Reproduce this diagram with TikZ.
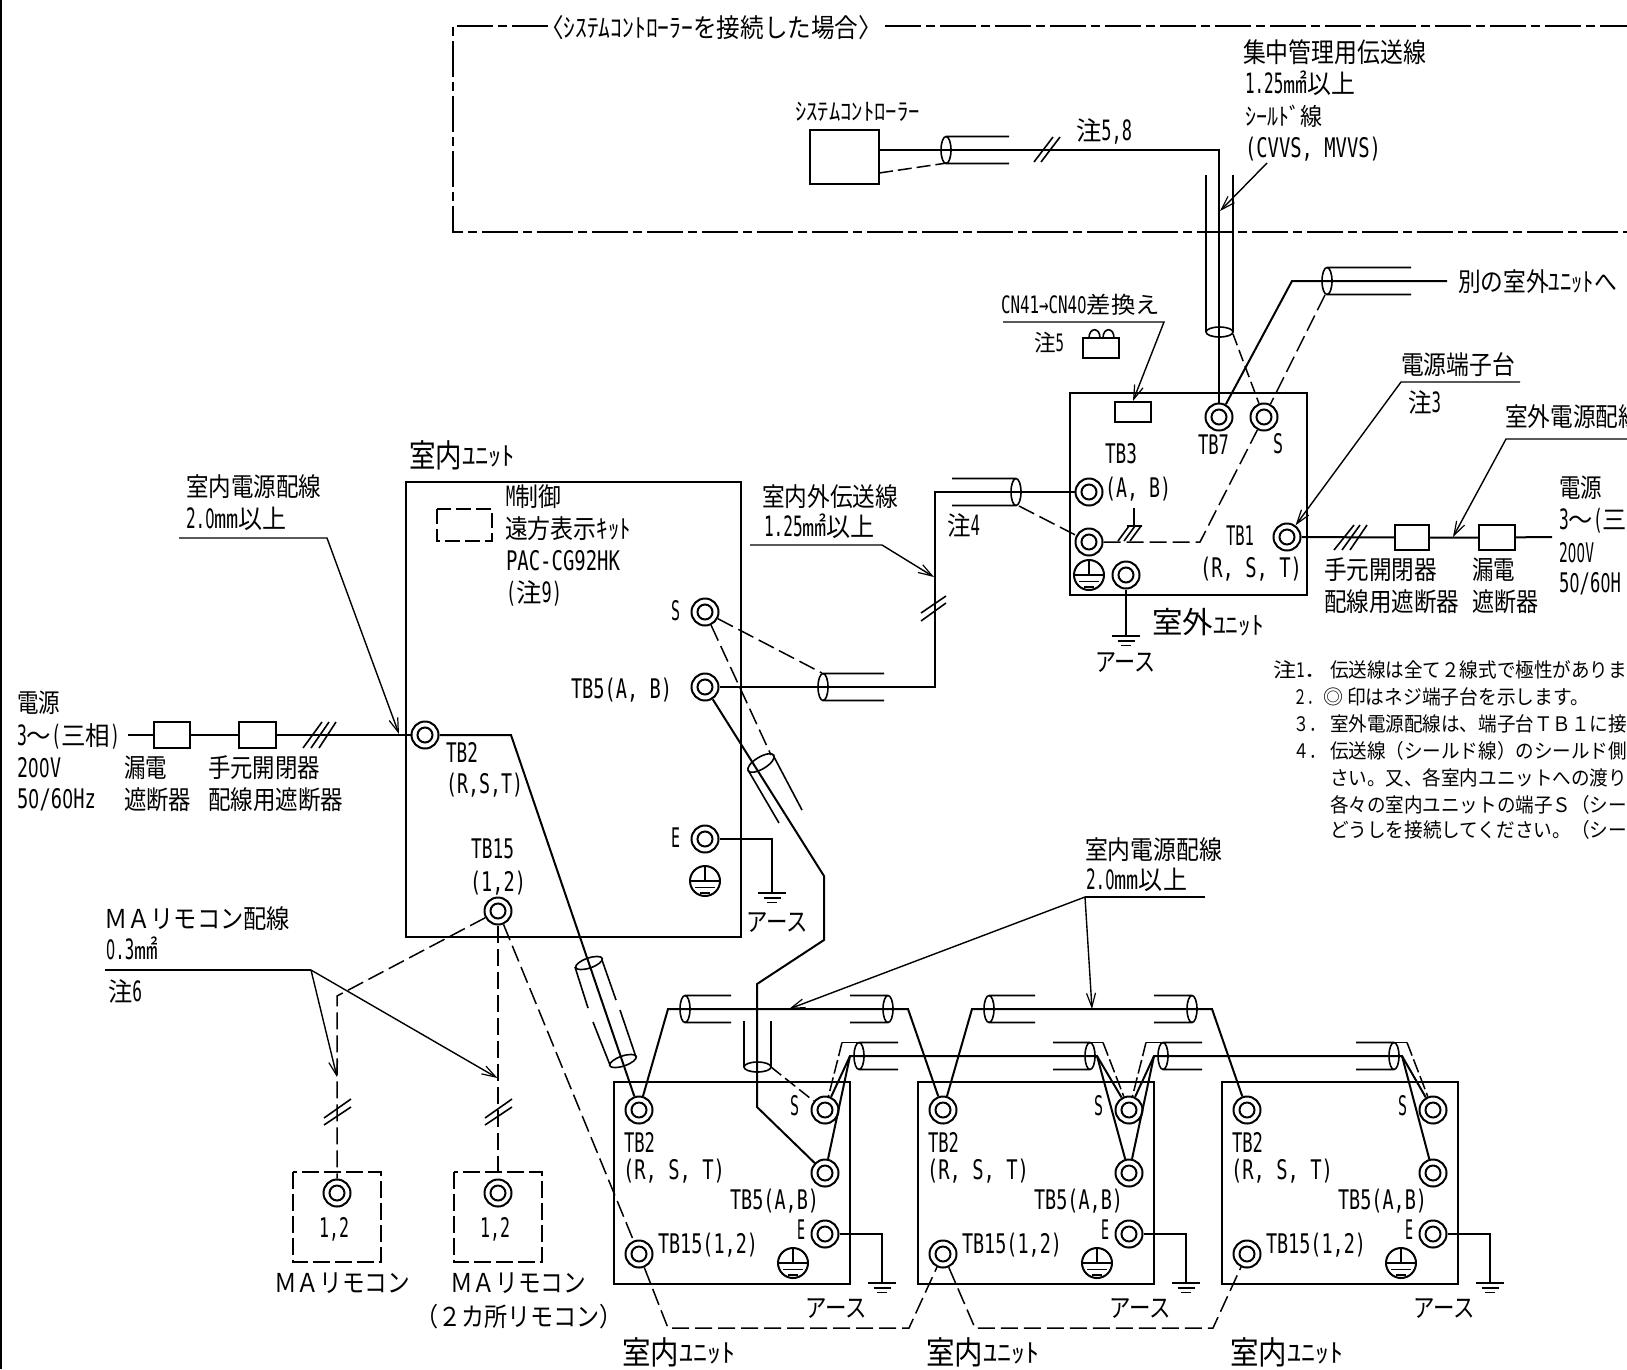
\documentclass[tikz,border=0pt]{standalone}
\usepackage{fontspec}
\usepackage{graphicx}
\usetikzlibrary{arrows.meta}
\setmainfont{Noto Sans CJK JP}
\newfontfamily\latf{DejaVu Sans Mono}
\newfontfamily\zerof{TeX Gyre Heros}
\newcommand\Z{\makebox[0.602em]{\zerof 0}}
\newcount\tc
\tikzset{
  lbl/.style={inner sep=0pt,outer sep=0pt,anchor=base west,text=black},
  wire/.style={line width=2pt,line join=miter},
  thin wire/.style={line width=1.6pt},
  dash wire/.style={line width=1.5pt,dash pattern=on 17pt off 6pt},
  chain/.style={line width=1.7pt,dash pattern=on 36pt off 5pt on 9pt off 5pt},
  lead/.style={line width=1.4pt,-{Straight Barb[length=14pt,width=9pt,line width=1.2pt]}},
  plain lead/.style={line width=1.4pt},
  tout/.style={circle,draw,line width=2pt,minimum size=27pt,inner sep=0pt},
  tin/.style={circle,draw,line width=2pt,minimum size=15pt,inner sep=0pt},
  boxn/.style={draw,line width=2pt,inner sep=0pt},
}
% x-left, y-centre, width, font size, text
\newcommand\Tx[5]{\global\advance\tc by1
  \node[lbl] (txt\the\tc) at (#1,{#2+0.37*#4}) {\fontsize{#4}{#4}\selectfont\resizebox{#3pt}{\height}{#5}};}
\newcommand\Mx[2][28]{\scalebox{0.62}[1]{\fontsize{#1}{#1}\selectfont\latf #2}}
% Latin label
\newcommand\Lt[4]{\Tx{#1}{#2}{#3}{27}{\latf #4}}
\newcommand\Bx[5]{\node[boxn,minimum width={(#4-#2)*1pt},minimum height={(#5-#3)*1pt}] (#1) at ({(#2+#4)/2},{(#3+#5)/2}) {};}
\newcommand\Term[3]{\node[tout] (#1) at (#2,#3) {}; \node[tin] (#1-i) at (#1) {};}
\newcommand\PE[3]{\node[circle,draw,line width=2pt,minimum size=30pt,inner sep=0pt] (#1) at (#2,#3) {};
  \draw[line width=1.7pt] (#2,#3-15) -- (#2,#3) (#2-15,#3) -- (#2+15,#3) (#2-10,#3+6.5) -- (#2+10,#3+6.5) (#2-5,#3+12) -- (#2+5,#3+12);}
\newcommand\Gnd[2]{\draw[line width=1.7pt] (#1-14,#2) -- (#1+14,#2) (#1-8.5,#2+5) -- (#1+8.5,#2+5) (#1-5,#2+9.5) -- (#1+5,#2+9.5);}
% cable: x, y, x-end
\newcommand\Cab[3]{\draw[thin wire] (#1,#2) ellipse (5pt and 13.5pt) (#1,#2-13.5) -- (#3,#2-13.5) (#1,#2+13.5) -- (#3,#2+13.5);}
\begin{document}
\begin{tikzpicture}[x=1pt,y=-1pt]
\useasboundingbox (0,0) rectangle (1627,1369);
\draw[line width=2.6pt] (1,0) -- (1,1369);

% ---------- system controller frame
\coordinate (fa) at (548,26); \coordinate (fb) at (453,26); \coordinate (fc) at (453,232); \coordinate (fd) at (1627,232);
\coordinate (fe) at (885,26); \coordinate (ff) at (1627,26);
\draw[chain] (fa) -- (fb) -- (fc) -- (fd);
\draw[chain] (fe) -- (ff);
\Tx{540}{28}{342}{26}{〈ｼｽﾃﾑｺﾝﾄﾛｰﾗｰを接続した場合〉}
\Tx{795}{112}{125}{24}{ｼｽﾃﾑｺﾝﾄﾛｰﾗｰ}
\Bx{ctl}{810}{130}{879}{184}
\Tx{1076}{131}{56}{26}{注\Mx{5,8}}
\Tx{1243}{53}{183}{27}{集中管理用伝送線}
\Tx{1245}{84}{110}{26}{\Mx{1.25}㎟以上}
\Tx{1245}{117}{77}{24}{ｼｰﾙﾄﾞ線}
\Lt{1245}{148}{136}{(CVVS, MVVS)}
\coordinate (ctlw) at (879,150); \coordinate (ctlb) at (1219,150);
\coordinate (ctld) at (879,173); \coordinate (cable1b) at (947,163);
\Cab{946}{150}{1009}
\draw[dash wire,dash pattern=on 14pt off 5pt] (ctld) -- (cable1b);
\draw[thin wire] (1034,162) -- (1053,137) (1041,162) -- (1060,137);
\draw[thin wire] (1206,175) -- (1206,332) (1233,175) -- (1233,332);
\draw[thin wire] (1219.5,332) ellipse (13.5pt and 5pt);
\coordinate (ldA) at (1267,163); \coordinate (ldB) at (1220,211);
\draw[lead] (ldA) -- (ldB);

% ---------- outdoor unit
\Bx{oubox}{1070}{393}{1307}{595}
\Bx{socket}{1115}{402}{1151}{422}
\Term{tb7}{1219}{417}
\Term{outS}{1264}{417}
\Term{oAB}{1089}{492}
\Term{oSh}{1089}{542}
\Term{oTB1}{1287}{537}
\Term{oE}{1126}{575}
\PE{oPE}{1089}{575}
\draw[wire] (ctlw) -- (ctlb) -- (tb7);
\coordinate (nxA) at (1292,281); \coordinate (nxB) at (1447,281);
\draw[wire] (tb7) -- (nxA) -- (nxB);
\Cab{1327}{281}{1411}
\coordinate (nxC) at (1325,295); \coordinate (shA) at (1233,334);
\draw[dash wire] (nxC) -- (outS);
\draw[dash wire,dash pattern=on 12pt off 5pt] (shA) -- (outS);
\Tx{1458}{282}{159}{26}{別の室外ﾕﾆｯﾄへ}
% jumper
\Tx{1001}{305}{159}{23}{\Mx[24]{CN41→CN4\Z}差換え}
\coordinate (jA) at (1003,322); \coordinate (jB) at (1164,322);
\draw[lead] (jA) -- (jB) -- (socket.north);
\Tx{1034}{343}{30}{23}{注\Mx[24]{5}}
\Bx{jbox}{1083}{338}{1119}{358}
\draw[thin wire] (1089,338) .. controls (1089,327) and (1100,327) .. (1100,338);
\draw[thin wire] (1103,338) .. controls (1103,327) and (1114,327) .. (1114,338);
\Lt{1198}{444}{31}{TB7}
\Lt{1273}{443}{10}{S}
\Lt{1105}{453}{32}{TB3}
\Lt{1105}{487}{66}{(A, B)}
\Lt{1226}{535}{28}{TB1}
\Lt{1200}{567}{102}{(R, S, T)}
\Tx{1152}{622}{112}{30}{室外\raisebox{-1pt}{\fontsize{25}{25}\selectfont ﾕﾆｯﾄ}}
% chassis earth
\draw[thin wire] (1134,508) -- (1134,526) (1127,526) -- (1142,526) (1129,526) -- (1118,541) (1135,526) -- (1124,541) (1141,526) -- (1130,541);
\coordinate (shB) at (1200,542);
\draw[dash wire] (oSh) -- (shB) -- (outS);
\coordinate (oG) at (1126,636);
\draw[wire] (oE) -- (oG);
\Gnd{1126}{636}
\Tx{1095}{662}{61}{26}{アース}
% cable to AB
\Cab{1016}{492}{952}
\coordinate (cabAb) at (1019,506);
\draw[dash wire] (cabAb) -- (oSh);
\Tx{947}{526}{33}{26}{注\Mx{4}}
% outdoor power
\Bx{ob1}{1395}{525}{1429}{550}
\Bx{ob2}{1479}{525}{1515}{550}
\coordinate (opw) at (1552,537);
\draw[wire] (oTB1) -- (ob1) (ob1) -- (ob2) (ob2) -- (opw);
\draw[thin wire] (1334,550) -- (1354,525) (1342,550) -- (1360,525) (1350,550) -- (1367,525);
\Tx{1401}{365}{114}{26}{電源端子台}
\coordinate (ldC) at (1520,382); \coordinate (ldD) at (1401,382);
\draw[lead] (ldC) -- (ldD) -- (oTB1);
\Tx{1408}{403}{33}{26}{注\Mx{3}}
\Tx{1505}{417}{136}{26}{室外電源配線}
\coordinate (ldE) at (1627,439); \coordinate (ldF) at (1506,439); \coordinate (ldG) at (1453,537);
\draw[lead] (ldE) -- (ldF) -- (ldG);
\Tx{1559}{488}{43}{26}{電源}
\Tx{1559}{520}{68}{26}{\Mx{3}～\Mx{(}三}
\Lt{1559}{552}{35}{2\Z\Z V}
\Lt{1559}{582}{62}{5\Z/6\Z H}
\Tx{1324}{570}{113}{26}{手元開閉器}
\Tx{1324}{602}{135}{26}{配線用遮断器}
\Tx{1472}{570}{43}{26}{漏電}
\Tx{1472}{602}{66}{26}{遮断器}
% notes
\Tx{1273}{670}{55}{20}{注\Mx[20]{1}．}
\Tx{1330}{670}{297}{20}{伝送線は全て２線式で極性がありま}
\Tx{1293}{697}{28}{20}{２．}
\Tx{1323}{697}{20}{20}{◎}
\Tx{1347}{697}{242}{20}{印はネジ端子台を示します。}
\Tx{1293}{724}{32}{20}{３．}
\Tx{1330}{724}{297}{20}{室外電源配線は、端子台ＴＢ１に接}
\Tx{1293}{751}{32}{20}{４．}
\Tx{1330}{751}{297}{20}{伝送線（シールド線）のシールド側}
\Tx{1330}{778}{297}{20}{さい。又、各室内ユニットへの渡り}
\Tx{1330}{805}{297}{20}{各々の室内ユニットの端子Ｓ（シー}
\Tx{1330}{830}{297}{20}{どうしを接続してください。（シー}

% ---------- main indoor unit
\Bx{inbox}{406}{482}{741}{937}
\Term{iTB2}{425}{735}
\Term{iS}{705}{612}
\Term{iTB5}{705}{687}
\Term{iE}{705}{839}
\Term{iTB15}{498}{911}
\PE{iPE}{705}{881}
\Tx{409}{456}{53}{32}{室内}
\Tx{462}{456}{53}{26}{ﾕﾆｯﾄ}
\Tx{506}{497}{55}{26}{\Mx{M}制御}
\draw[dash wire,dash pattern=on 15pt off 5pt] (437,509) rectangle (492,541);
\Tx{505}{529}{126}{26}{遠方表示ｷｯﾄ}
\Lt{506}{560}{114}{PAC-CG92HK}
\Tx{506}{593}{56}{26}{\Mx{(}注\Mx{9)}}
\Lt{671}{610}{9}{S}
\Lt{571}{688}{101}{TB5(A, B)}
\Lt{671}{837}{9}{E}
\Lt{446}{752}{32}{TB2}
\Lt{446}{783}{77}{(R,S,T)}
\Lt{471}{848}{43}{TB15}
\Lt{470}{881}{56}{(1,2)}
% E wire
\coordinate (iEa) at (772,839); \coordinate (iEb) at (772,893);
\draw[wire] (iE) -- (iEa) -- (iEb);
\Gnd{772}{893}
\Tx{746}{922}{62}{26}{アース}
% power in
\Tx{17}{703}{43}{26}{電源}
\Tx{17}{736}{103}{26}{\Mx{3}～\Mx{(}三相\Mx{)}}
\Lt{17}{767}{44}{2\Z\Z V}
\Lt{17}{798}{79}{5\Z/6\Z Hz}
\Tx{124}{768}{43}{26}{漏電}
\Tx{124}{800}{67}{26}{遮断器}
\Tx{208}{768}{112}{26}{手元開閉器}
\Tx{208}{800}{135}{26}{配線用遮断器}
\Bx{ib1}{154}{722}{190}{748}
\Bx{ib2}{239}{722}{276}{748}
\coordinate (ipw) at (128,735);
\draw[wire] (ipw) -- (ib1) (ib1) -- (ib2) (ib2) -- (iTB2);
\draw[thin wire] (303,748) -- (322,722) (311,748) -- (329,722) (319,748) -- (336,722);
\Tx{186}{487}{135}{26}{室内電源配線}
\Tx{186}{519}{101}{26}{\Mx{2.\Z}㎜以上}
\coordinate (ldH) at (179,538); \coordinate (ldI) at (327,538); \coordinate (ldJ) at (399,734);
\draw[lead] (ldH) -- (ldI) -- (ldJ);
% transmission
\coordinate (trA) at (935,687); \coordinate (trB) at (935,492);
\draw[wire] (iTB5) -- (trA) -- (trB) -- (oAB);
\Cab{823}{687}{884}
\coordinate (trC) at (822,673); 
\draw[dash wire] (iS) -- (trC);
\draw[thin wire] (921,613) -- (946,596) (921,621) -- (946,603);
\Tx{762}{497}{136}{26}{室内外伝送線}
\Tx{764}{527}{111}{26}{\Mx{1.25}㎟以上}
\coordinate (ldK) at (750,545); \coordinate (ldL) at (882,545); \coordinate (ldM) at (934,577);
\draw[lead] (ldK) -- (ldL) -- (ldM);
% diagonal cable TB5 -> unit 1
\draw[thin wire,rotate around={31:(761,763)}] (761,763) ellipse (15pt and 6pt);
\draw[thin wire] (748,770) -- (779,823) (773,755) -- (802,810);
\coordinate (dgS) at (771,755);
\draw[dash wire] (iS) -- (dgS);

% ---------- three lower units
\foreach \d/\n in {0/a,304/b,608/c}{
\begin{scope}[xshift=\d pt]
\Bx{\n box}{614}{1082}{850}{1284}
\Term{\n TB2}{639}{1110}
\Term{\n S}{825}{1110}
\Term{\n TB5}{825}{1173}
\Term{\n E}{825}{1234}
\Term{\n TB15}{639}{1254}
\PE{\n PE}{793}{1263}
\Lt{624}{1142}{31}{TB2}
\Lt{623}{1169}{102}{(R, S, T)}
\Lt{730}{1199}{89}{TB5(A,B)}
\Lt{797}{1229}{8}{E}
\Lt{658}{1243}{100}{TB15(1,2)}
\Lt{790}{1105}{9}{S}
\coordinate (\n Ea) at (882,1234); \coordinate (\n Eb) at (882,1283);
\draw[wire] (\n E) -- (\n Ea) -- (\n Eb);
\Gnd{882}{1283}
\Tx{805}{1308}{62}{26}{アース}
\Tx{622}{1353}{57}{32}{室内}
\Tx{679}{1353}{56}{26}{ﾕﾆｯﾄ}
\end{scope}
}
% TB5 -> unit 1 main wire
\coordinate (dgA) at (824,876); \coordinate (dgB) at (824,940); \coordinate (dgC) at (757,984); \coordinate (dgD) at (757,1107);
\draw[wire] (iTB5) -- (dgA) -- (dgB) -- (dgC) -- (dgD) -- (aTB5);
% vertical sheath unit1
\draw[thin wire] (744,1021) -- (744,1067) (771,1021) -- (771,1067);
\draw[thin wire] (757.5,1067) ellipse (13.5pt and 5pt);
\coordinate (vsh) at (771,1067);
\draw[dash wire,dash pattern=on 13pt off 5pt] (vsh) -- (aS);
% TB2 diagonal
\coordinate (tbA) at (511,735);
\draw[wire] (iTB2) -- (tbA) -- (aTB2);
\draw[thin wire,rotate around={19:(589,963)}] (589,963) ellipse (14pt and 5pt);
\draw[thin wire,rotate around={19:(623,1061)}] (623,1061) ellipse (14pt and 5pt);
\draw[thin wire] (575,967) -- (588,1008) (593,1022) -- (610,1065) (602,960) -- (616,1000) (620,1010) -- (636,1057);
% power busses
\coordinate (pa) at (668,1009); \coordinate (pb) at (908,1009); \coordinate (pc) at (972,1009); \coordinate (pd) at (1212,1009);
\draw[wire] (aTB2) -- (pa) -- (pb) -- (bTB2);
\draw[wire] (bTB2) -- (pc) -- (pd) -- (cTB2);
\Cab{685}{1009}{731}
\Cab{888}{1009}{850}
\Cab{989}{1009}{1035}
\Cab{1192}{1009}{1154}
% transmission bus
\coordinate (qa) at (850,1056); \coordinate (qb) at (1097,1056); \coordinate (qc) at (1154,1056); \coordinate (qd) at (1402,1056);
\draw[wire] (aS) -- (qa) -- (qb) -- (bS);
\draw[wire] (aTB5) -- (qa);
\draw[wire] (bTB5) -- (qb);
\draw[wire] (bS) -- (qc) -- (qd) -- (cS);
\draw[wire] (bTB5) -- (qc);
\draw[wire] (cTB5) -- (qd);
\Cab{859}{1056}{898}
\Cab{1090}{1056}{1053}
\Cab{1163}{1056}{1202}
\Cab{1394}{1056}{1356}
% shields
\coordinate (ra) at (842,1042.5); \coordinate (rb) at (859,1042.5);
\coordinate (rc) at (1103,1042.5); \coordinate (rd) at (1090,1042.5);
\coordinate (re) at (1146,1042.5); \coordinate (rf) at (1163,1042.5);
\coordinate (rg) at (1407,1042.5); \coordinate (rh) at (1394,1042.5);
\draw[thin wire] (ra) -- (rb) (rc) -- (rd) (re) -- (rf) (rg) -- (rh);
\draw[dash wire,dash pattern=on 14pt off 4pt] (ra) -- (aS) (rc) -- (bS) (re) -- (bS) (rg) -- (cS);
% TB15 chain
\coordinate (ca) at (668,1328); \coordinate (cb) at (909,1328); \coordinate (cc) at (975,1328); \coordinate (cd) at (1213,1328);
\draw[dash wire] (iTB15) -- (aTB15);
\draw[dash wire] (aTB15) -- (ca) -- (cb) -- (bTB15);
\draw[dash wire] (bTB15) -- (cc) -- (cd) -- (cTB15);

% ---------- MA remotes
\Term{rm1}{337}{1193}
\Term{rm2}{498}{1193}
\coordinate (ma) at (337,996);
\draw[dash wire] (iTB15) -- (ma) -- (rm1);
\draw[dash wire] (iTB15) -- (rm2);
\draw[thin wire] (324,1118) -- (351,1099) (324,1125) -- (351,1107);
\draw[thin wire] (485,1118) -- (512,1099) (485,1125) -- (512,1107);
\draw[dash wire,dash pattern=on 17pt off 5pt] (293,1172) rectangle (381,1262);
\draw[dash wire,dash pattern=on 17pt off 5pt] (454,1172) rectangle (542,1262);
\Lt{319}{1227}{30}{1,2}
\Lt{480}{1227}{30}{1,2}
\Tx{274}{1283}{136}{26}{ＭＡリモコン}
\Tx{450}{1283}{136}{26}{ＭＡリモコン}
\Tx{415}{1317}{208}{26}{（２カ所リモコン）}
\Tx{104}{919}{186}{26}{ＭＡリモコン配線}
\Tx{106}{950}{52}{26}{\Mx{\Z.3}㎟}
\Tx{108}{992}{34}{26}{注\Mx{6}}
\coordinate (ldN) at (105,970); \coordinate (ldO) at (311,970); \coordinate (ldP) at (337,1077); \coordinate (ldQ) at (497.5,1078);
\draw[plain lead] (ldN) -- (ldO);
\draw[lead] (ldO) -- (ldP);
\draw[lead] (ldO) -- (ldQ);

% ---------- lower power label
\Tx{1085}{850}{137}{26}{室内電源配線}
\Tx{1086}{880}{101}{26}{\Mx{2.\Z}㎜以上}
\coordinate (ldR) at (1205,897); \coordinate (ldS) at (1085,897); \coordinate (ldT) at (789,1009); \coordinate (ldU) at (1092,1009);
\draw[plain lead] (ldR) -- (ldS);
\draw[lead] (ldS) -- (ldT);
\draw[lead] (ldS) -- (ldU);
\end{tikzpicture}
\end{document}
